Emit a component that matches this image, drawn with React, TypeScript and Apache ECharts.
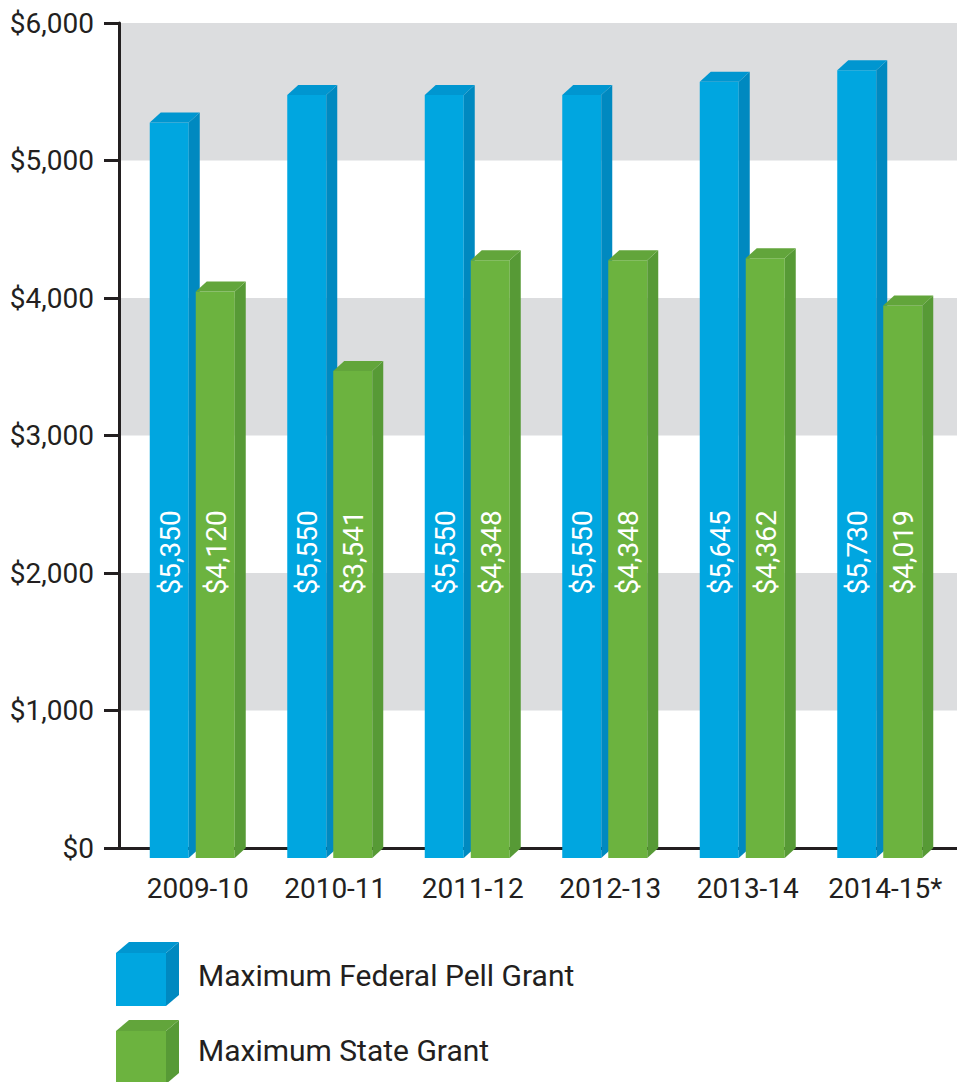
import React, { useEffect, useRef } from "react";
import * as echarts from "echarts";

const CATEGORIES = ["2009-10", "2010-11", "2011-12", "2012-13", "2013-14", "2014-15*"];
const PELL = [5350, 5550, 5550, 5550, 5645, 5730];
const STATE = [4120, 3541, 4348, 4348, 4362, 4019];
const SERIES_NAMES = ["Maximum Federal Pell Grant", "Maximum State Grant"];
const Y_MIN = 0;
const Y_MAX = 6000;
const Y_INTERVAL = 1000;
const LABEL_VALUE = 2150;

const BLUE = { front: "#00a6e0", side: "#0089c0", top: "#0096d0" };
const GREEN = { front: "#6cb33f", side: "#579a36", top: "#62a53b" };
const INK = "#231f20";
const BAND = "#dcdddf";

const BAR_W = 39;
const DX = 11;
const DY = 10;

function fmtMoney(v: number) {
  return "$" + Math.round(v).toLocaleString("en-US");
}

function makeRender(col: { front: string; side: string; top: string }, off: number) {
  return (params: any, api: any) => {
    const i = api.value(0);
    const v = api.value(1);
    const [cx, yv] = api.coord([i, v]);
    const y0 = api.coord([i, 0])[1];
    const yl = api.coord([i, LABEL_VALUE])[1];
    const x0 = cx + off;
    const x1 = x0 + BAR_W;
    const top = yv + DY;
    const bot = y0 + DY;
    return {
      type: "group",
      children: [
        {
          type: "rect",
          shape: { x: x0, y: top, width: BAR_W, height: bot - top },
          style: { fill: col.front },
        },
        {
          type: "polygon",
          shape: { points: [[x1, top], [x1 + DX, top - DY], [x1 + DX, bot - DY], [x1, bot]] },
          style: { fill: col.side },
        },
        {
          type: "polygon",
          shape: { points: [[x0, top], [x0 + DX, top - DY], [x1 + DX, top - DY], [x1, top]] },
          style: { fill: col.top },
        },
        {
          type: "text",
          x: x0 + BAR_W / 2 + 1,
          y: yl,
          rotation: Math.PI / 2,
          style: {
            text: fmtMoney(v),
            fill: "#ffffff",
            fontSize: 28,
            fontFamily: "Roboto",
            align: "center",
            verticalAlign: "middle",
          },
        },
      ],
    };
  };
}

function legendCube(col: { front: string; side: string; top: string }, x: number, y: number, w: number, h: number) {
  return [
    {
      type: "rect",
      z: 10,
      shape: { x, y, width: w, height: h },
      style: { fill: col.front },
    },
    {
      type: "polygon",
      z: 10,
      shape: { points: [[x + w, y], [x + w + 13, y - 11], [x + w + 13, y + h - 11], [x + w, y + h]] },
      style: { fill: col.side },
    },
    {
      type: "polygon",
      z: 10,
      shape: { points: [[x, y], [x + 13, y - 11], [x + w + 13, y - 11], [x + w, y]] },
      style: { fill: col.top },
    },
  ];
}

function legendFor(name: string, top: number, h: number) {
  return {
    orient: "vertical",
    left: 116,
    top,
    padding: 0,
    itemWidth: 50,
    itemHeight: h,
    icon: "rect",
    selectedMode: false,
    textStyle: { fontSize: 30, fontFamily: "Roboto", color: INK, padding: [0, 0, 0, 27] },
    data: [name],
  };
}

export default function App() {
  const ref = useRef<HTMLDivElement>(null);
  useEffect(() => {
    if (!ref.current) return;
    const chart = echarts.init(ref.current, undefined, { renderer: "svg" });
    const option: any = {
      animation: false,
      backgroundColor: "#ffffff",
      grid: [
        { left: 119, right: 0, top: 23, height: 825 },
        { left: 129, right: 3, top: 23, height: 825 },
      ],
      xAxis: [
        {
          gridIndex: 0,
          type: "value",
          min: 0,
          max: 1,
          axisLine: { show: true, lineStyle: { color: INK, width: 3 } },
          axisTick: { show: false },
          axisLabel: { show: false },
          splitLine: { show: false },
        },
        {
          gridIndex: 1,
          type: "category",
          data: CATEGORIES,
          axisLine: { show: false },
          axisTick: { show: false },
          axisLabel: { interval: 0, fontSize: 28, fontFamily: "Roboto", color: INK, margin: 26 },
        },
      ],
      yAxis: [
        {
          gridIndex: 0,
          type: "value",
          min: Y_MIN,
          max: Y_MAX,
          interval: Y_INTERVAL,
          offset: 2,
          axisLine: { show: true, lineStyle: { color: INK, width: 3 } },
          axisTick: { show: true, length: 15, lineStyle: { color: INK, width: 3 } },
          axisLabel: { formatter: (v: number) => fmtMoney(v), fontSize: 28, fontFamily: "Roboto", color: INK, margin: 23 },
          splitLine: { show: false },
          splitArea: { show: true, areaStyle: { color: ["#ffffff", BAND] } },
        },
        { gridIndex: 1, type: "value", min: Y_MIN, max: Y_MAX, interval: Y_INTERVAL, show: false },
      ],
      legend: [legendFor(SERIES_NAMES[0], 955, 40), legendFor(SERIES_NAMES[1], 1031, 38)],
      graphic: { elements: [...legendCube(BLUE, 116, 953, 50, 53), ...legendCube(GREEN, 116, 1031, 50, 53)] },
      series: [
        {
          type: "custom",
          name: SERIES_NAMES[0],
          xAxisIndex: 1,
          yAxisIndex: 1,
          itemStyle: { color: BLUE.front },
          encode: { x: 0, y: 1 },
          data: PELL.map((v, i) => [i, v]),
          renderItem: makeRender(BLUE, -48),
          z: 3,
        },
        {
          type: "custom",
          name: SERIES_NAMES[1],
          xAxisIndex: 1,
          yAxisIndex: 1,
          itemStyle: { color: GREEN.front },
          encode: { x: 0, y: 1 },
          data: STATE.map((v, i) => [i, v]),
          renderItem: makeRender(GREEN, -2),
          z: 4,
        },
      ],
    };
    chart.setOption(option);
    return () => chart.dispose();
  }, []);
  return <div ref={ref} style={{ position: "fixed", left: 0, top: 0, width: 957, height: 1082 }} />;
}
